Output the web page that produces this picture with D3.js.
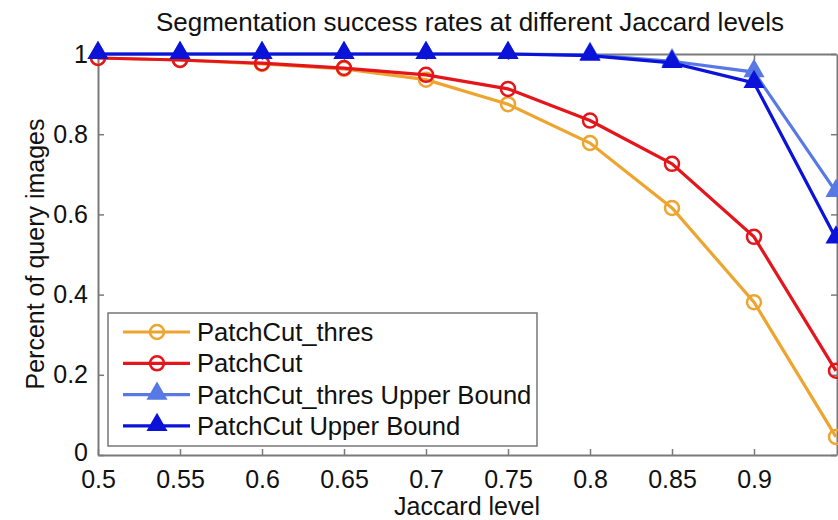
<!DOCTYPE html>
<html>
<head>
<meta charset="utf-8">
<script src="https://cdn.jsdelivr.net/npm/d3@7"></script>
<style>
  body { margin: 0; background: #fff; }
  text { font-family: "Liberation Sans", Arial, Helvetica, sans-serif; fill: #111; }
</style>
</head>
<body>
<div id="chart"></div>
<script>
(function () {

  // data
  var jaccard = [0.5, 0.55, 0.6, 0.65, 0.7, 0.75, 0.8, 0.85, 0.9, 0.95];
  var thres = [0.99, 0.985, 0.975, 0.963, 0.936, 0.875, 0.778, 0.616, 0.381, 0.045];
  var patchcut = [0.99, 0.985, 0.977, 0.965, 0.948, 0.913, 0.834, 0.726, 0.544, 0.21];
  var thresUB = [1, 1, 1, 1, 1, 1, 0.998, 0.982, 0.955, 0.656];
  var patchcutUB = [1, 1, 1, 1, 1, 1, 0.996, 0.978, 0.928, 0.54];

  var xTicks = [0.5, 0.55, 0.6, 0.65, 0.7, 0.75, 0.8, 0.85, 0.9];
  var yTicks = [0, 0.2, 0.4, 0.6, 0.8, 1];

  var series = [
    { name: "PatchCut_thres", values: thres, color: "#eda530", marker: "circle" },
    { name: "PatchCut", values: patchcut, color: "#e4151b", marker: "circle" },
    { name: "PatchCut_thres Upper Bound", values: thresUB, color: "#5878e6", marker: "triangle" },
    { name: "PatchCut Upper Bound", values: patchcutUB, color: "#0b13d8", marker: "triangle" }
  ];

  var w = 838, h = 520;
  var margin = { top: 54, bottom: 65, left: 98, right: 2 };

  var xScale = d3.scaleLinear().domain([0.5, 0.95]).range([margin.left, w - margin.right]);
  var yScale = d3.scaleLinear().domain([0, 1]).range([h - margin.bottom, margin.top]);

  var svg = d3.select("#chart").append("svg")
    .attr("width", w)
    .attr("height", h);

  var axisColor = "#7a7a7a";

  // axes, matlab style ticks pointing in
  var xAxis = d3.axisBottom(xScale).tickValues(xTicks).tickSize(-6).tickSizeOuter(0)
    .tickPadding(15).tickFormat(function (d) { return d3.format("")(+d.toFixed(2)); });
  var xAxisTop = d3.axisTop(xScale).tickValues(xTicks).tickSize(-6).tickSizeOuter(0).tickFormat("");
  var yAxis = d3.axisLeft(yScale).tickValues(yTicks).tickSize(-6).tickSizeOuter(0)
    .tickPadding(10).tickFormat(function (d) { return d3.format("")(+d.toFixed(1)); });
  var yAxisRight = d3.axisRight(yScale).tickValues(yTicks).tickSize(-6).tickSizeOuter(0).tickFormat("");

  var gx = svg.append("g").attr("transform", "translate(0," + yScale(0) + ")").call(xAxis);
  var gxt = svg.append("g").attr("transform", "translate(0," + yScale(1) + ")").call(xAxisTop);
  var gy = svg.append("g").attr("transform", "translate(" + xScale(0.5) + ",0)").call(yAxis);
  var gyr = svg.append("g").attr("transform", "translate(" + (xScale(0.95) + 1) + ",0)").call(yAxisRight);

  [gx, gxt, gy, gyr].forEach(function (g) {
    g.select(".domain").attr("stroke", axisColor).attr("stroke-width", 2);
    g.selectAll(".tick line").attr("stroke", axisColor).attr("stroke-width", 1.5);
    g.selectAll(".tick text").style("font-size", "25px").style("font-family", "Liberation Sans, Arial, sans-serif").attr("fill", "#111");
  });

  // the "0" on the y axis sits a little low, as in the original
  gy.selectAll(".tick text").filter(function (d) { return d == 0; }).attr("dy", "0.2em");

  var line = d3.line()
    .x(function (d, i) { return xScale(jaccard[i]); })
    .y(function (d) { return yScale(d); });

  var tri = d3.symbol().type(d3.symbolTriangle).size(135);

  function drawMarker(g, type, color, x, y) {
    if (type == "circle") {
      g.append("circle")
        .attr("cx", x).attr("cy", y).attr("r", 7)
        .attr("fill", "none")
        .attr("stroke", color)
        .attr("stroke-width", 2.5);
    } else {
      g.append("path")
        .attr("d", tri)
        .attr("transform", "translate(" + x + "," + (y - 1) + ")")
        .attr("fill", color)
        .attr("stroke", color)
        .attr("stroke-width", 2)
        .attr("stroke-linejoin", "miter");
    }
  }

  series.forEach(function (s) {
    var g = svg.append("g");
    g.append("path")
      .datum(s.values)
      .attr("d", line)
      .attr("fill", "none")
      .attr("stroke", s.color)
      .attr("stroke-width", 3.2);
    s.values.forEach(function (v, i) {
      drawMarker(g, s.marker, s.color, xScale(jaccard[i]), yScale(v));
    });
  });

  // title and axis labels
  svg.append("text")
    .attr("x", 470)
    .attr("y", 31)
    .attr("text-anchor", "middle")
    .style("font-size", "26px")
    .text("Segmentation success rates at different Jaccard levels");

  svg.append("text")
    .attr("x", 467)
    .attr("y", 515)
    .attr("text-anchor", "middle")
    .style("font-size", "25px")
    .text("Jaccard level");

  svg.append("text")
    .attr("transform", "translate(44,254) rotate(-90)")
    .attr("text-anchor", "middle")
    .style("font-size", "25px")
    .text("Percent of query images");

  // legend
  var legend = svg.append("g");
  legend.append("rect")
    .attr("x", 108).attr("y", 313)
    .attr("width", 429).attr("height", 133)
    .attr("fill", "#fff")
    .attr("stroke", "#777")
    .attr("stroke-width", 1.5);

  series.forEach(function (s, i) {
    var y = 332 + i * 31.3;
    legend.append("line")
      .attr("x1", 123).attr("x2", 190)
      .attr("y1", y).attr("y2", y)
      .attr("stroke", s.color)
      .attr("stroke-width", 3.2);
    drawMarker(legend, s.marker, s.color, 157, y);
    legend.append("text")
      .attr("x", 197)
      .attr("y", y + 9)
      .style("font-size", "25.6px")
      .text(s.name);
  });

})();
</script>
</body>
</html>
